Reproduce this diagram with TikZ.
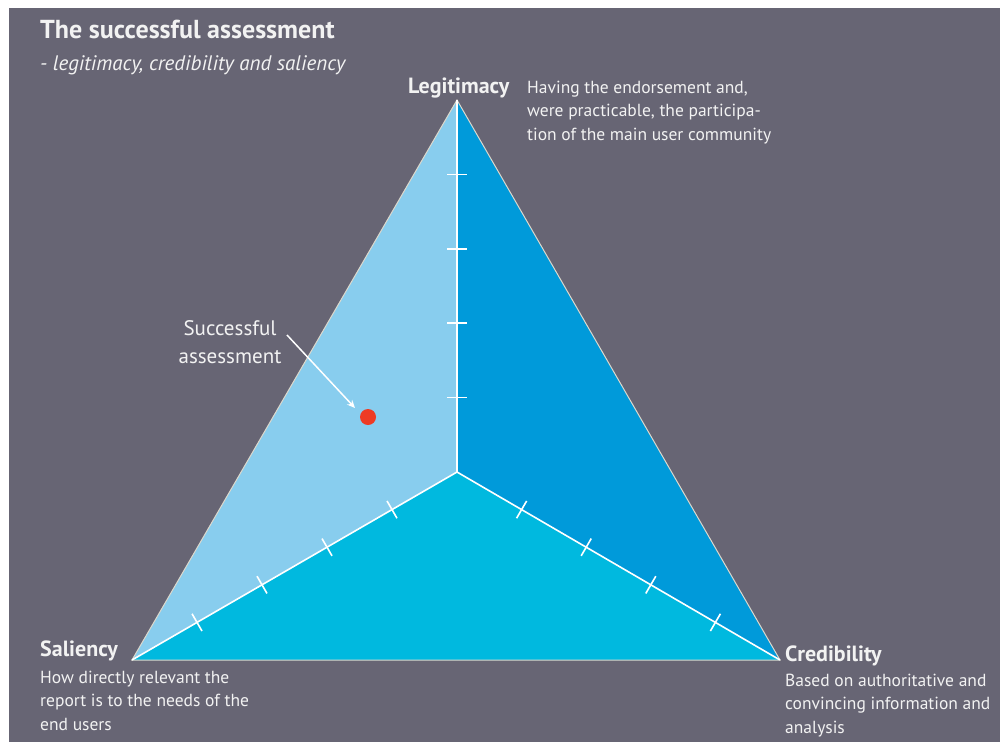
\documentclass[tikz,border=0pt]{standalone}
\usepackage{fontspec}
\setmainfont{PT Sans}
\usetikzlibrary{calc,arrows.meta}
\definecolor{bg}{HTML}{676574}
\definecolor{lblue}{HTML}{88CDEE}
\definecolor{mblue}{HTML}{009ADA}
\definecolor{cblue}{HTML}{00B9DF}
\definecolor{edge}{HTML}{DCD8CC}
\definecolor{txt}{HTML}{F2F2F2}
\definecolor{dotred}{HTML}{EE3B24}
\newcommand{\threelines}[3]{\vtop{\hbox{#1}\hbox{#2}\hbox{#3}}}
\tikzset{
  lbl/.style={anchor=base west, inner sep=0pt, text=txt},
  desc/.style={lbl, font=\fontsize{17.5}{23.6}\selectfont},
  head/.style={lbl, font=\fontsize{22}{24}\selectfont\bfseries},
  tick/.style={draw=white, line width=1.6pt},
  inner/.style={draw=white, line width=1.6pt},
}
\begin{document}
\begin{tikzpicture}[x=1pt,y=-1pt]
\useasboundingbox (0,0) rectangle (1000,742);
\fill[white] (0,0) rectangle (1000,742);
\fill[bg] (9,8) rectangle (1000,742);
% vertices
\coordinate (L) at (457,100);
\coordinate (S) at (132,660);
\coordinate (C) at (780,660);
\coordinate (O) at (457,472);
% regions
\fill[lblue] (L) -- (O) -- (S) -- cycle;
\fill[mblue] (L) -- (C) -- (O) -- cycle;
\fill[cblue] (S) -- (O) -- (C) -- cycle;
\draw[edge, line width=1pt, line join=miter] (L) -- (S) -- (C) -- cycle;
\draw[inner] (L) -- (O) -- (S);
\draw[inner] (O) -- (C);
% ticks
\foreach \k in {1,2,3,4}{
  \draw[tick] ($(O)!\k/5!(L)+(-10,0)$) -- ($(O)!\k/5!(L)+(10,0)$);
  \draw[tick] ($(O)!\k/5!(S)!10pt!90:(S)$) -- ($(O)!\k/5!(S)!10pt!-90:(S)$);
  \draw[tick] ($(O)!\k/5!(C)!10pt!90:(C)$) -- ($(O)!\k/5!(C)!10pt!-90:(C)$);
}
% dot and arrow
\node[circle, fill=dotred, minimum size=16pt, inner sep=0pt] (dot) at (368,417) {};
\node[anchor=base, inner sep=0pt, text=txt, font=\fontsize{21}{28}\selectfont] (sa1) at (230,335) {Successful};
\node[anchor=base, inner sep=0pt, text=txt, font=\fontsize{21}{28}\selectfont] (sa2) at (230,363) {assessment};
\coordinate (as) at (287,335);
\coordinate (ae) at (355,408);
\draw[white, line width=1.5pt, -{Stealth[length=8pt,width=7pt]}] (as) -- (ae);
% title
\node[lbl, font=\fontsize{26}{28}\selectfont\bfseries] (title) at (40,38) {The successful assessment};
\node[lbl, font=\fontsize{21}{24}\selectfont\itshape] (sub) at (40,70) {- legitimacy, credibility and saliency};
% labels
\node[head] (hl) at (408,93) {Legitimacy};
\node[desc] (dl) at (527,93) {\threelines{Having the endorsement and,}{were practicable, the participa-}{tion of the main user community}};
\node[head] (hs) at (40,656) {Saliency};
\node[desc] (ds) at (40,683) {\threelines{How directly relevant the}{report is to the needs of the}{end users}};
\node[head] (hc) at (785,661) {Credibility};
\node[desc] (dc) at (785,686) {\threelines{Based on authoritative and}{convincing information and}{analysis}};
\end{tikzpicture}
\end{document}
